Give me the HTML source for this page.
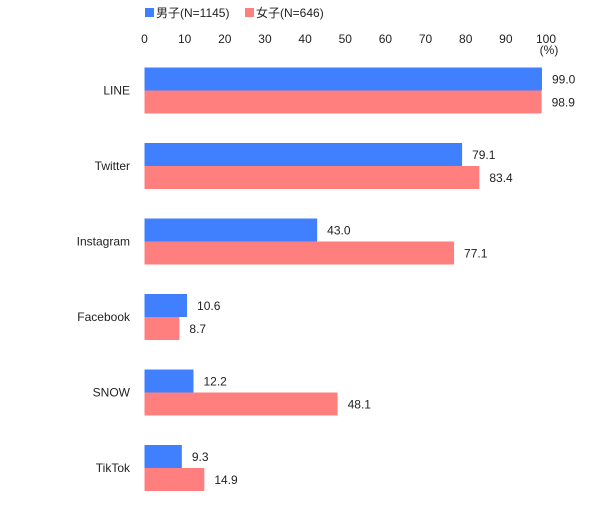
<!DOCTYPE html>
<html><head><meta charset="utf-8"><style>
body{margin:0;background:#fff;font-family:"Liberation Sans","Noto Sans CJK JP",sans-serif;}
svg text{font-family:"Liberation Sans","Noto Sans CJK JP",sans-serif;font-size:12px;fill:#222;}
</style></head><body>
<svg id="chart" width="600" height="510" xmlns="http://www.w3.org/2000/svg">
<g>
<rect x="145" y="8" width="9" height="9" fill="#4080ff"/>
<text x="156" y="17">男子(N=1145)</text>
<rect x="245" y="8" width="9" height="9" fill="#ff7f7f"/>
<text x="256" y="17">女子(N=646)</text>
</g>
<text x="549" y="54" text-anchor="middle">(%)</text>
<g id="ticks"></g><g id="bars"></g>
</svg>
<script>
const categories=["LINE","Twitter","Instagram","Facebook","SNOW","TikTok"];
const maleValues=[99.0,79.1,43.0,10.6,12.2,9.3];
const femaleValues=[98.9,83.4,77.1,8.7,48.1,14.9];
const tickValues=[0,10,20,30,40,50,60,70,80,90,100];
const ns="http://www.w3.org/2000/svg";
const x0=144.5,scale=4.015;
const xPos=v=>x0+v*scale;
const catY=i=>90.5+i*75.5;
function mk(tag,attrs,parent){const e=document.createElementNS(ns,tag);for(const k in attrs)e.setAttribute(k,attrs[k]);parent.appendChild(e);return e;}
const tg=document.getElementById('ticks'),bg=document.getElementById('bars');
tickValues.forEach(v=>{const t=mk('text',{x:xPos(v),y:43,'text-anchor':'middle'},tg);


t.textContent=v;});
categories.forEach((c,i)=>{const cy=catY(i);
const l=mk('text',{x:130,y:cy+4,'text-anchor':'end'},bg);


l.textContent=c;
[[maleValues[i],'#4080ff',cy-23],[femaleValues[i],'#ff7f7f',cy]].forEach(([v,col,y])=>{
const r=mk('rect',{x:x0,y:y,width:xPos(v)-x0,height:23,fill:col},bg);


const t=mk('text',{x:xPos(v)+10,y:y+16},bg);


t.textContent=v.toFixed(1);});
});
</script>
</body></html>
